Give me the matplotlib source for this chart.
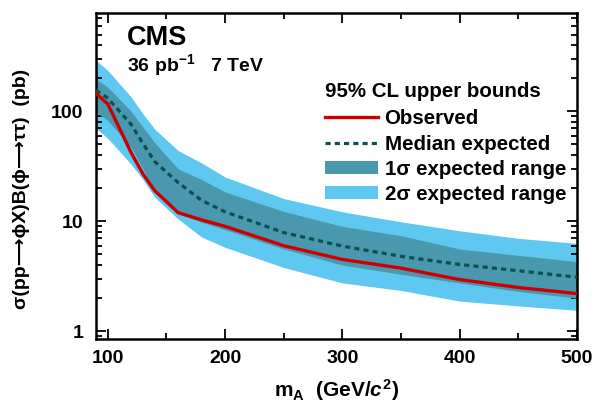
import matplotlib
matplotlib.use("Agg")
import matplotlib.pyplot as plt
from matplotlib.ticker import FixedLocator, LogLocator, NullFormatter, FixedFormatter

plt.rcParams['font.family'] = ['Liberation Sans', 'DejaVu Sans']
plt.rcParams['font.weight'] = 'bold'
plt.rcParams['mathtext.fontset'] = 'custom'
plt.rcParams['mathtext.rm'] = 'Liberation Sans:bold'
plt.rcParams['mathtext.bf'] = 'Liberation Sans:bold'
plt.rcParams['mathtext.it'] = 'Liberation Sans:bold:italic'
plt.rcParams['mathtext.sf'] = 'Liberation Sans:bold'

# Data (pb) vs m_A (GeV/c^2)
mass = [90, 100, 120, 130, 140, 160, 180, 200, 250, 300, 350, 400, 450, 500]
observed = [145, 117, 42, 27, 19, 12.0, 10.3, 9.0, 6.0, 4.5, 3.75, 2.95, 2.5, 2.2]
expected = [156, 132, 76, 51, 35, 22.5, 15.5, 12.2, 7.9, 5.95, 4.8, 4.05, 3.55, 3.1]
one_sigma_hi = [198, 166, 100, 72, 52, 30, 24, 18.5, 12.3, 9.0, 7.4, 5.6, 4.9, 4.3]
one_sigma_lo = [98, 83, 47, 30, 18.5, 11.7, 9.8, 8.4, 5.6, 4.0, 3.3, 2.75, 2.3, 2.0]
two_sigma_hi = [291, 236, 135, 95, 69, 44, 34, 25.3, 16.1, 12.2, 9.9, 8.2, 7.0, 6.3]
two_sigma_lo = [70, 57, 33, 24, 16.6, 10.5, 7.2, 5.8, 3.8, 2.75, 2.35, 1.88, 1.7, 1.55]

x_ticks = [100, 200, 300, 400, 500]
x_ticklabels = ['100', '200', '300', '400', '500']
y_ticks = [1, 10, 100]
y_ticklabels = ['1', '10', '100']

W, H = 606, 405
fig = plt.figure(figsize=(W / 100, H / 100), dpi=100)
ax = fig.add_axes([96 / W, 1 - 339 / H, (577 - 96) / W, (339 - 12.7) / H])

c_light = '#5EC8F0'
c_dark = '#4A98AD'
c_med = '#0A5052'
c_obs = '#CC0000'

ax.fill_between(mass, two_sigma_lo, two_sigma_hi, color=c_light, lw=0,
                label='2\u03c3 expected range', zorder=1)
ax.fill_between(mass, one_sigma_lo, one_sigma_hi, color=c_dark, lw=0,
                label='1\u03c3 expected range', zorder=2)
ax.plot(mass, expected, color=c_med, lw=2.3, linestyle=(0, (1.6, 1.3)),
        label='Median expected', zorder=3)
ax.plot(mass, observed, color=c_obs, lw=2.4, label='Observed', zorder=4)

ax.set_yscale('log')
ax.set_xlim(90, 500)
ax.set_ylim(0.85, 790)

ax.xaxis.set_major_locator(FixedLocator(x_ticks))
ax.xaxis.set_major_formatter(FixedFormatter(x_ticklabels))
ax.xaxis.set_minor_locator(FixedLocator([150, 250, 350, 450]))
ax.yaxis.set_major_locator(FixedLocator(y_ticks))
ax.yaxis.set_major_formatter(FixedFormatter(y_ticklabels))
ax.yaxis.set_minor_locator(LogLocator(base=10, subs=range(2, 10)))
ax.yaxis.set_minor_formatter(NullFormatter())

ax.tick_params(which='both', direction='in', top=True, right=True, width=1.3,
               labelsize=14)
ax.tick_params(which='major', length=7)
ax.tick_params(which='minor', length=4)
ax.tick_params(axis='x', which='major', pad=8)
ax.tick_params(axis='y', which='major', pad=9)
for lab in ax.get_xticklabels() + ax.get_yticklabels():
    lab.set_fontweight('bold')
for sp in ax.spines.values():
    sp.set_linewidth(1.8)

ax.set_xlabel(r'$\mathrm{m}_{\mathrm{A}}$  (GeV/$c^{2}$)', fontsize=15,
              fontweight='bold', labelpad=7)
ax.set_ylabel('\u03c3(pp\u27f6\u03d5X)B(\u03d5\u27f6\u03c4\u03c4)  (pb)', fontsize=14,
              fontweight='bold')
ax.yaxis.set_label_coords(-0.137, 0.46)

fig.text(127 / W, 1 - 38 / H, 'CMS', fontsize=19.5, fontweight='bold',
         ha='left', va='center')
fig.text(127 / W, 1 - 65 / H, r'36 pb$^{\mathrm{-1}}$   7 TeV', fontsize=14,
         fontweight='bold', ha='left', va='center')

handles, labels = ax.get_legend_handles_labels()
order = [3, 2, 1, 0]
leg = ax.legend([handles[i] for i in order], [labels[i] for i in order],
                title='95% CL upper bounds', loc='upper left',
                bbox_to_anchor=(325 / W, 1 - 82 / H), bbox_transform=fig.transFigure,
                frameon=False, borderpad=0, borderaxespad=0,
                handlelength=2.6, handleheight=0.6, handletextpad=0.3,
                labelspacing=0.3, alignment='left',
                prop={'size': 14.8, 'weight': 'bold'},
                title_fontproperties={'size': 14.8, 'weight': 'bold'})
leg._legend_box.sep = 6

fig.savefig('out.png', dpi=100)
